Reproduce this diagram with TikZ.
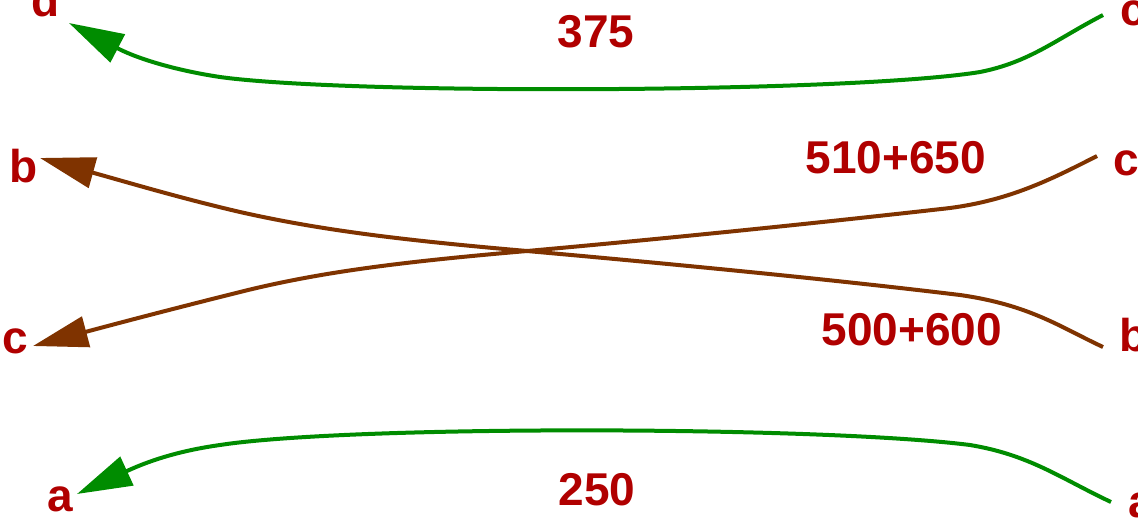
\documentclass[tikz,border=0pt]{standalone}
\usepackage{fontspec}
\setmainfont{Liberation Sans}
\usetikzlibrary{arrows.meta}
\definecolor{lbl}{HTML}{B00000}
\definecolor{gr}{HTML}{008C00}
\definecolor{br}{HTML}{7F3300}
\begin{document}
\begin{tikzpicture}[x=1pt,y=-1pt,
  lab/.style={anchor=base,inner sep=0pt,text=lbl,font=\fontsize{46}{50}\selectfont\bfseries},
  edgegreen/.style={draw=gr,line width=4pt,-{Triangle[length=55pt,width=31pt]}},
  edgebrown/.style={draw=br,line width=4pt,-{Triangle[length=55pt,width=31pt]}}]
\useasboundingbox (0,0) rectangle (1138,520);
\clip (0,0) rectangle (1138,520);
% labels
\node[lab] (dL) at (46,16) {d};
\node[lab] (bL) at (23.5,182) {b};
\node[lab] (cL) at (15,353) {c};
\node[lab] (aL) at (60,511) {a};
\node[lab] (cR1) at (1133,25) {c};
\node[lab] (cR2) at (1126,175) {c};
\node[lab] (bR) at (1134,351) {b};
\node[lab] (aR) at (1141,517) {a};
\node[lab] (n375) at (596,47) {375};
\node[lab] (n510) at (896,173) {510+650};
\node[lab] (n500) at (912,345) {500+600};
\node[lab] (n250) at (597,505) {250};
% connector ends
\coordinate (pd) at (69,23);
\coordinate (pc1) at (1103,15);
\coordinate (pb) at (40,158);
\coordinate (pc2) at (1097,156);
\coordinate (pc) at (33,346);
\coordinate (pbR) at (1103,347);
\coordinate (pa) at (77,494);
\coordinate (paR) at (1111,502);
% connectors
\draw[edgegreen] (pc1) .. controls (1055,40) and (1030,62) .. (980,72)
  .. controls (850,93) and (350,95) .. (220,77)
  .. controls (180,71) and (140,60) .. (pd);
\draw[edgegreen] (paR) .. controls (1060,478) and (1030,455) .. (970,445)
  .. controls (820,426) and (350,425) .. (220,445)
  .. controls (170,452) and (140,465) .. (pa);
\draw[edgebrown] (pc2) .. controls (1050,180) and (1010,200) .. (950,208)
  .. controls (800,225) and (650,240) .. (527,251)
  .. controls (400,262) and (320,272) .. (240,292)
  .. controls (180,307) and (130,320) .. (pc);
\draw[edgebrown] (pbR) .. controls (1060,327) and (1030,305) .. (960,295)
  .. controls (820,278) and (650,262) .. (527,251)
  .. controls (400,240) and (320,230) .. (240,212)
  .. controls (180,198) and (130,183) .. (pb);
\end{tikzpicture}
\end{document}
